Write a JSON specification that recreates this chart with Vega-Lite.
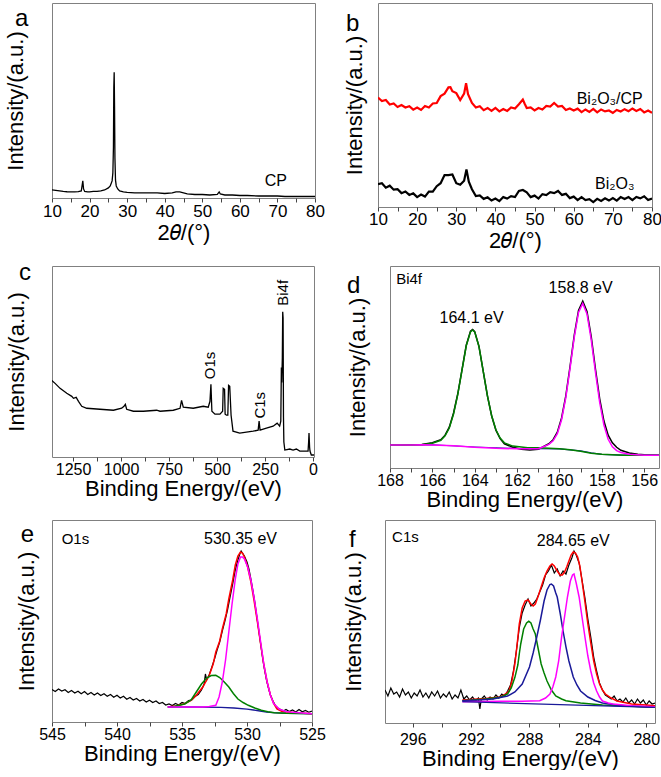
{
"$schema":"https://vega.github.io/schema/vega-lite/v6.json",
"padding":{"left":3,"top":2,"right":0,"bottom":0},
"background":"white",
"config":{
 "view":{"stroke":"#808080","strokeWidth":1},
 "font":"Liberation Sans",
 "axis":{"labelFont":"Liberation Sans","titleFont":"Liberation Sans","titleFontWeight":"normal","titleFontSize":22,"labelColor":"#000","titleColor":"#000","grid":false,"domain":false,"tickColor":"#444","tickSize":4,"labelPadding":0,"labelFlush":false,"labelOverlap":false,"labelBound":false,"format":"d"},
 "axisY":{"labels":false,"ticks":false,"domain":false},
 "text":{"font":"Liberation Sans","fontSize":16,"fill":"#000","fontWeight":"normal"}
},
"datasets":{
 "a":[{"x":10,"y":8},{"x":11,"y":7.5},{"x":12,"y":7},{"x":13,"y":6.5},{"x":14,"y":6.2},{"x":15,"y":6},{"x":16,"y":6},{"x":17,"y":6.3},{"x":17.8,"y":7},{"x":18,"y":12},{"x":18.2,"y":17},{"x":18.4,"y":9},{"x":18.7,"y":6.5},{"x":19.5,"y":6},{"x":20,"y":6},{"x":21,"y":6.5},{"x":22,"y":6.5},{"x":23,"y":7},{"x":24,"y":8},{"x":25,"y":10},{"x":25.5,"y":12},{"x":26,"y":17},{"x":26.2,"y":25},{"x":26.35,"y":50},{"x":26.45,"y":110},{"x":26.55,"y":125},{"x":26.65,"y":90},{"x":26.75,"y":40},{"x":26.9,"y":18},{"x":27.1,"y":12},{"x":27.5,"y":9},{"x":28,"y":7},{"x":29,"y":6},{"x":30,"y":5.5},{"x":32,"y":5},{"x":35,"y":5},{"x":38,"y":5},{"x":40,"y":4.5},{"x":42,"y":5},{"x":43,"y":6},{"x":44,"y":6},{"x":45,"y":5},{"x":46,"y":4},{"x":48,"y":3.5},{"x":50,"y":3.5},{"x":52,"y":3},{"x":54,"y":3.5},{"x":54.5,"y":6},{"x":54.8,"y":4},{"x":56,"y":3},{"x":58,"y":3},{"x":60,"y":2.5},{"x":62,"y":2.5},{"x":65,"y":2},{"x":68,"y":2},{"x":70,"y":2},{"x":72,"y":1.5},{"x":75,"y":1.5},{"x":78,"y":1.5},{"x":80,"y":1.5}],
 "b":[{"s":"r","x":10,"y":110.5},{"s":"r","x":11,"y":107},{"s":"r","x":12,"y":108},{"s":"r","x":13,"y":103.5},{"s":"r","x":14,"y":104.5},{"s":"r","x":15,"y":101},{"s":"r","x":16,"y":103},{"s":"r","x":17,"y":100.5},{"s":"r","x":18,"y":101.8},{"s":"r","x":19,"y":98.3},{"s":"r","x":20,"y":100.5},{"s":"r","x":21,"y":98},{"s":"r","x":22,"y":102},{"s":"r","x":23,"y":100.5},{"s":"r","x":24,"y":104.5},{"s":"r","x":25,"y":105},{"s":"r","x":26,"y":112},{"s":"r","x":27,"y":114.5},{"s":"r","x":28,"y":120.8},{"s":"r","x":28.5,"y":121},{"s":"r","x":29,"y":117},{"s":"r","x":30,"y":115},{"s":"r","x":31,"y":108},{"s":"r","x":32,"y":114.5},{"s":"r","x":32.5,"y":125},{"s":"r","x":33,"y":114},{"s":"r","x":34,"y":105},{"s":"r","x":35,"y":100.5},{"s":"r","x":36,"y":101.8},{"s":"r","x":37,"y":97.8},{"s":"r","x":38,"y":100},{"s":"r","x":39,"y":97},{"s":"r","x":40,"y":100},{"s":"r","x":41,"y":96.5},{"s":"r","x":42,"y":99},{"s":"r","x":43,"y":97},{"s":"r","x":44,"y":100.5},{"s":"r","x":45,"y":99.5},{"s":"r","x":46,"y":103.8},{"s":"r","x":47,"y":108.5},{"s":"r","x":47.5,"y":104},{"s":"r","x":48,"y":100},{"s":"r","x":49,"y":100.5},{"s":"r","x":50,"y":97.5},{"s":"r","x":51,"y":100},{"s":"r","x":52,"y":98.5},{"s":"r","x":53,"y":102},{"s":"r","x":54,"y":101.5},{"s":"r","x":55,"y":105},{"s":"r","x":56,"y":101.5},{"s":"r","x":57,"y":102},{"s":"r","x":58,"y":98},{"s":"r","x":59,"y":99.5},{"s":"r","x":60,"y":97.5},{"s":"r","x":61,"y":99.3},{"s":"r","x":62,"y":95.8},{"s":"r","x":63,"y":98.5},{"s":"r","x":64,"y":96},{"s":"r","x":65,"y":99},{"s":"r","x":66,"y":95.5},{"s":"r","x":67,"y":98.5},{"s":"r","x":68,"y":96.5},{"s":"r","x":69,"y":97.5},{"s":"r","x":70,"y":95},{"s":"r","x":71,"y":98},{"s":"r","x":72,"y":96.5},{"s":"r","x":73,"y":98.8},{"s":"r","x":74,"y":96.8},{"s":"r","x":75,"y":99.5},{"s":"r","x":76,"y":97},{"s":"r","x":77,"y":99},{"s":"r","x":78,"y":95.5},{"s":"r","x":79,"y":97.5},{"s":"r","x":80,"y":95},
  {"s":"k","x":10,"y":23},{"s":"k","x":11,"y":24},{"s":"k","x":12,"y":19.5},{"s":"k","x":13,"y":21.5},{"s":"k","x":14,"y":17.5},{"s":"k","x":15,"y":18},{"s":"k","x":16,"y":14},{"s":"k","x":17,"y":15.7},{"s":"k","x":18,"y":12.2},{"s":"k","x":19,"y":13.8},{"s":"k","x":20,"y":10},{"s":"k","x":21,"y":12.5},{"s":"k","x":22,"y":10.5},{"s":"k","x":23,"y":15.5},{"s":"k","x":24,"y":15.5},{"s":"k","x":25,"y":21},{"s":"k","x":26,"y":24},{"s":"k","x":27,"y":32.2},{"s":"k","x":28,"y":32.2},{"s":"k","x":29,"y":32.8},{"s":"k","x":30,"y":24},{"s":"k","x":31,"y":22.5},{"s":"k","x":32,"y":26.5},{"s":"k","x":32.6,"y":38},{"s":"k","x":33.2,"y":25.5},{"s":"k","x":34,"y":18},{"s":"k","x":35,"y":11},{"s":"k","x":36,"y":11.7},{"s":"k","x":37,"y":8.2},{"s":"k","x":38,"y":9.8},{"s":"k","x":39,"y":6.5},{"s":"k","x":40,"y":8.5},{"s":"k","x":41,"y":6},{"s":"k","x":42,"y":10},{"s":"k","x":43,"y":8.5},{"s":"k","x":44,"y":11},{"s":"k","x":45,"y":10},{"s":"k","x":46,"y":16.2},{"s":"k","x":47,"y":17.2},{"s":"k","x":48,"y":14.8},{"s":"k","x":49,"y":10},{"s":"k","x":50,"y":11.5},{"s":"k","x":51,"y":8.5},{"s":"k","x":52,"y":13},{"s":"k","x":53,"y":12},{"s":"k","x":54,"y":15},{"s":"k","x":55,"y":14},{"s":"k","x":56,"y":16.2},{"s":"k","x":57,"y":12.2},{"s":"k","x":58,"y":13.3},{"s":"k","x":59,"y":9},{"s":"k","x":60,"y":10.5},{"s":"k","x":61,"y":7},{"s":"k","x":62,"y":10},{"s":"k","x":63,"y":7},{"s":"k","x":64,"y":8},{"s":"k","x":65,"y":5},{"s":"k","x":66,"y":8.2},{"s":"k","x":67,"y":6.2},{"s":"k","x":68,"y":8.8},{"s":"k","x":69,"y":6.5},{"s":"k","x":70,"y":9},{"s":"k","x":71,"y":6.5},{"s":"k","x":72,"y":10},{"s":"k","x":73,"y":8},{"s":"k","x":74,"y":10},{"s":"k","x":75,"y":7},{"s":"k","x":76,"y":10.2},{"s":"k","x":77,"y":8.7},{"s":"k","x":78,"y":10.8},{"s":"k","x":79,"y":7},{"s":"k","x":80,"y":8.5}],
 "c":[{"x":1361,"y":77},{"x":1344,"y":74},{"x":1318,"y":69},{"x":1283,"y":64},{"x":1257,"y":61},{"x":1248,"y":59},{"x":1234,"y":60},{"x":1222,"y":56},{"x":1205,"y":51},{"x":1179,"y":49},{"x":1110,"y":48},{"x":1040,"y":47},{"x":997,"y":49},{"x":985,"y":51},{"x":978,"y":53},{"x":971,"y":48},{"x":936,"y":46},{"x":884,"y":46},{"x":815,"y":47},{"x":797,"y":46},{"x":728,"y":47},{"x":693,"y":49},{"x":685,"y":57},{"x":676,"y":50},{"x":624,"y":49},{"x":572,"y":51},{"x":546,"y":50},{"x":537,"y":56},{"x":532,"y":73},{"x":527,"y":46},{"x":511,"y":43},{"x":485,"y":43},{"x":471,"y":46},{"x":468,"y":69},{"x":461,"y":68},{"x":458,"y":43},{"x":451,"y":42},{"x":444,"y":42},{"x":440,"y":72},{"x":434,"y":71},{"x":427,"y":42},{"x":417,"y":26},{"x":382,"y":24},{"x":312,"y":26},{"x":286,"y":27},{"x":281,"y":36},{"x":276,"y":27},{"x":243,"y":29},{"x":208,"y":31},{"x":187,"y":34},{"x":174,"y":31},{"x":168,"y":36},{"x":165,"y":90},{"x":163,"y":75},{"x":160,"y":100},{"x":158,"y":146},{"x":156,"y":140},{"x":154,"y":40},{"x":152,"y":15},{"x":147,"y":7},{"x":121,"y":8},{"x":104,"y":7},{"x":87,"y":8},{"x":69,"y":6},{"x":43,"y":6},{"x":26,"y":6},{"x":23,"y":15},{"x":21,"y":24},{"x":18,"y":10},{"x":16,"y":6},{"x":9,"y":2},{"x":-5,"y":2}],
 "d":[{"s":"k","x":168,"y":23},{"s":"k","x":167.5,"y":22.6},{"s":"k","x":167,"y":22.9},{"s":"k","x":166.5,"y":23.3},{"s":"k","x":166,"y":25},{"s":"k","x":165.6,"y":28},{"s":"k","x":165.4,"y":32.5},{"s":"k","x":165.2,"y":40.5},{"s":"k","x":165,"y":54.5},{"s":"k","x":164.8,"y":73.5},{"s":"k","x":164.6,"y":97.5},{"s":"k","x":164.4,"y":121.5},{"s":"k","x":164.2,"y":135.5},{"s":"k","x":164.1,"y":137.2},{"s":"k","x":164,"y":135},{"s":"k","x":163.8,"y":120.5},{"s":"k","x":163.6,"y":96},{"s":"k","x":163.4,"y":71.5},{"s":"k","x":163.2,"y":51.5},{"s":"k","x":163,"y":37.5},{"s":"k","x":162.8,"y":29},{"s":"k","x":162.6,"y":24},{"s":"k","x":162.2,"y":20.5},{"s":"k","x":161.8,"y":18.5},{"s":"k","x":161.4,"y":17.8},{"s":"k","x":161,"y":18.5},{"s":"k","x":160.7,"y":21.8},{"s":"k","x":160.5,"y":24},{"s":"k","x":160.3,"y":28},{"s":"k","x":160.1,"y":35.5},{"s":"k","x":159.9,"y":49.5},{"s":"k","x":159.7,"y":71.5},{"s":"k","x":159.5,"y":100.5},{"s":"k","x":159.3,"y":131.5},{"s":"k","x":159.1,"y":156},{"s":"k","x":158.9,"y":165.3},{"s":"k","x":158.7,"y":155},{"s":"k","x":158.5,"y":130},{"s":"k","x":158.3,"y":98},{"s":"k","x":158.1,"y":68.5},{"s":"k","x":157.9,"y":46.5},{"s":"k","x":157.7,"y":32.5},{"s":"k","x":157.5,"y":25},{"s":"k","x":157.3,"y":20.5},{"s":"k","x":157.1,"y":17.5},{"s":"k","x":156.7,"y":14.8},{"s":"k","x":156.3,"y":13.5},{"s":"k","x":156,"y":13},{"s":"k","x":155.3,"y":12.7},
  {"s":"b","x":168,"y":22.7},{"s":"b","x":166,"y":23},{"s":"b","x":164,"y":20.8},{"s":"b","x":162,"y":19.3},{"s":"b","x":160,"y":19},{"s":"b","x":159,"y":17},{"s":"b","x":158.5,"y":15},{"s":"b","x":158,"y":13.5},{"s":"b","x":157,"y":12.7},{"s":"b","x":155.3,"y":12.7},
  {"s":"g","x":168,"y":22.7},{"s":"g","x":167,"y":22.8},{"s":"g","x":166.5,"y":23},{"s":"g","x":166,"y":24.6},{"s":"g","x":165.6,"y":27.4},{"s":"g","x":165.4,"y":31.9},{"s":"g","x":165.2,"y":39.6},{"s":"g","x":165,"y":53.5},{"s":"g","x":164.8,"y":72.9},{"s":"g","x":164.6,"y":96.9},{"s":"g","x":164.4,"y":121},{"s":"g","x":164.2,"y":134.8},{"s":"g","x":164.1,"y":136.7},{"s":"g","x":164,"y":134.6},{"s":"g","x":163.8,"y":120.3},{"s":"g","x":163.6,"y":95.9},{"s":"g","x":163.4,"y":71.5},{"s":"g","x":163.2,"y":51.7},{"s":"g","x":163,"y":37.8},{"s":"g","x":162.8,"y":29.6},{"s":"g","x":162.6,"y":24.9},{"s":"g","x":162.2,"y":21.7},{"s":"g","x":161.5,"y":20},{"s":"g","x":161,"y":20},{"s":"g","x":160.5,"y":19.5},{"s":"g","x":160,"y":19},{"s":"g","x":159.5,"y":18},{"s":"g","x":159,"y":16.5},{"s":"g","x":158.5,"y":14.5},{"s":"g","x":158,"y":13.5},{"s":"g","x":157.5,"y":13},{"s":"g","x":157,"y":12.7},{"s":"g","x":156,"y":12.7},{"s":"g","x":155.3,"y":12.7},
  {"s":"m","x":168,"y":22.7},{"s":"m","x":167,"y":22.8},{"s":"m","x":166.4,"y":23},{"s":"m","x":166,"y":22.8},{"s":"m","x":165,"y":22},{"s":"m","x":164,"y":20.5},{"s":"m","x":163,"y":19.5},{"s":"m","x":162,"y":19},{"s":"m","x":161,"y":19},{"s":"m","x":160.7,"y":21.6},{"s":"m","x":160.5,"y":23.4},{"s":"m","x":160.3,"y":26.9},{"s":"m","x":160.1,"y":34},{"s":"m","x":159.9,"y":47.8},{"s":"m","x":159.7,"y":69.6},{"s":"m","x":159.5,"y":98.6},{"s":"m","x":159.3,"y":129.7},{"s":"m","x":159.1,"y":154},{"s":"m","x":158.9,"y":162.9},{"s":"m","x":158.7,"y":152.6},{"s":"m","x":158.5,"y":127},{"s":"m","x":158.3,"y":94.8},{"s":"m","x":158.1,"y":65},{"s":"m","x":157.9,"y":42.6},{"s":"m","x":157.7,"y":28.4},{"s":"m","x":157.5,"y":21},{"s":"m","x":157.3,"y":17.2},{"s":"m","x":157.1,"y":15.3},{"s":"m","x":156.7,"y":13.7},{"s":"m","x":156,"y":12.7},{"s":"m","x":155.3,"y":12.7}],
 "e":[{"s":"k","x":545,"y":32.5},{"s":"k","x":544.75,"y":30.5},{"s":"k","x":544.5,"y":33},{"s":"k","x":544.25,"y":31},{"s":"k","x":544,"y":32.2},{"s":"k","x":543.75,"y":29.5},{"s":"k","x":543.5,"y":31.5},{"s":"k","x":543.25,"y":29},{"s":"k","x":543,"y":30.8},{"s":"k","x":542.75,"y":28.2},{"s":"k","x":542.5,"y":30.5},{"s":"k","x":542.25,"y":27.5},{"s":"k","x":542,"y":29.5},{"s":"k","x":541.75,"y":27},{"s":"k","x":541.5,"y":29},{"s":"k","x":541.25,"y":26.5},{"s":"k","x":541,"y":28.2},{"s":"k","x":540.75,"y":25.8},{"s":"k","x":540.5,"y":27.5},{"s":"k","x":540.25,"y":24.8},{"s":"k","x":540,"y":26.8},{"s":"k","x":539.75,"y":24},{"s":"k","x":539.5,"y":25.8},{"s":"k","x":539.25,"y":22.8},{"s":"k","x":539,"y":24.5},{"s":"k","x":538.75,"y":22},{"s":"k","x":538.5,"y":23.5},{"s":"k","x":538.25,"y":21},{"s":"k","x":538,"y":22.5},{"s":"k","x":537.75,"y":20},{"s":"k","x":537.5,"y":21.8},{"s":"k","x":537.25,"y":19.5},{"s":"k","x":537,"y":21},{"s":"k","x":536.75,"y":18.5},{"s":"k","x":536.5,"y":19.5},{"s":"k","x":536.25,"y":17},{"s":"k","x":536,"y":18},{"s":"k","x":535.75,"y":16.5},{"s":"k","x":535.5,"y":18.5},{"s":"k","x":535.25,"y":17},{"s":"k","x":535,"y":19.5},{"s":"k","x":534.75,"y":18.5},{"s":"k","x":534.5,"y":21.5},{"s":"k","x":534.25,"y":22},{"s":"k","x":534,"y":25.5},{"s":"k","x":533.75,"y":27.5},{"s":"k","x":533.5,"y":32},{"s":"k","x":533.3,"y":38},{"s":"k","x":533.2,"y":48},{"s":"k","x":533.1,"y":42},{"s":"k","x":532.9,"y":47.5},{"s":"k","x":532.7,"y":55},{"s":"k","x":532.5,"y":63},{"s":"k","x":532.3,"y":72},{"s":"k","x":532.1,"y":80},{"s":"k","x":531.9,"y":91},{"s":"k","x":531.7,"y":101},{"s":"k","x":531.5,"y":112},{"s":"k","x":531.3,"y":125},{"s":"k","x":531.1,"y":138},{"s":"k","x":530.9,"y":152},{"s":"k","x":530.7,"y":162},{"s":"k","x":530.55,"y":168},{"s":"k","x":530.45,"y":171},{"s":"k","x":530.35,"y":169},{"s":"k","x":530.2,"y":166},{"s":"k","x":530,"y":160},{"s":"k","x":529.85,"y":153},{"s":"k","x":529.7,"y":143},{"s":"k","x":529.55,"y":132},{"s":"k","x":529.4,"y":120},{"s":"k","x":529.25,"y":106},{"s":"k","x":529.1,"y":92},{"s":"k","x":528.95,"y":78},{"s":"k","x":528.8,"y":64},{"s":"k","x":528.65,"y":52},{"s":"k","x":528.5,"y":42},{"s":"k","x":528.35,"y":34},{"s":"k","x":528.2,"y":27},{"s":"k","x":528,"y":21},{"s":"k","x":527.8,"y":16},{"s":"k","x":527.6,"y":13.5},{"s":"k","x":527.4,"y":12.5},{"s":"k","x":527.2,"y":11},{"s":"k","x":527,"y":12.5},{"s":"k","x":526.75,"y":10.5},{"s":"k","x":526.5,"y":12},{"s":"k","x":526.25,"y":10},{"s":"k","x":526,"y":12.5},{"s":"k","x":525.75,"y":10.2},{"s":"k","x":525.5,"y":11.5},{"s":"k","x":525.25,"y":9.8},{"s":"k","x":525,"y":11},
  {"s":"r","x":536.1,"y":15},{"s":"r","x":535.5,"y":16},{"s":"r","x":534.8,"y":18.3},{"s":"r","x":534.3,"y":21.5},{"s":"r","x":533.9,"y":26.7},{"s":"r","x":533.4,"y":35},{"s":"r","x":532.9,"y":46.7},{"s":"r","x":532.6,"y":58},{"s":"r","x":532.4,"y":70},{"s":"r","x":532.1,"y":81},{"s":"r","x":531.9,"y":93},{"s":"r","x":531.6,"y":108},{"s":"r","x":531.4,"y":123},{"s":"r","x":531.1,"y":142},{"s":"r","x":530.9,"y":157},{"s":"r","x":530.7,"y":166},{"s":"r","x":530.5,"y":170},{"s":"r","x":530.35,"y":169},{"s":"r","x":530.2,"y":165},{"s":"r","x":529.95,"y":155},{"s":"r","x":529.7,"y":140},{"s":"r","x":529.45,"y":121},{"s":"r","x":529.2,"y":100},{"s":"r","x":528.95,"y":78},{"s":"r","x":528.7,"y":57},{"s":"r","x":528.45,"y":40},{"s":"r","x":528.2,"y":27},{"s":"r","x":527.95,"y":18.5},{"s":"r","x":527.7,"y":13},{"s":"r","x":527.3,"y":10.5},{"s":"r","x":527,"y":10},{"s":"r","x":526,"y":9},{"s":"r","x":525,"y":8.3},
  {"s":"m","x":536.1,"y":15},{"s":"m","x":534,"y":15},{"s":"m","x":533.4,"y":15},{"s":"m","x":532.9,"y":15.5},{"s":"m","x":532.4,"y":16.7},{"s":"m","x":532.15,"y":25},{"s":"m","x":531.9,"y":40},{"s":"m","x":531.65,"y":62},{"s":"m","x":531.4,"y":90},{"s":"m","x":531.15,"y":118},{"s":"m","x":530.9,"y":143},{"s":"m","x":530.7,"y":158},{"s":"m","x":530.5,"y":165},{"s":"m","x":530.35,"y":165},{"s":"m","x":530.2,"y":163},{"s":"m","x":529.95,"y":155},{"s":"m","x":529.7,"y":142},{"s":"m","x":529.45,"y":124},{"s":"m","x":529.2,"y":103},{"s":"m","x":528.95,"y":80},{"s":"m","x":528.7,"y":57},{"s":"m","x":528.45,"y":40},{"s":"m","x":528.2,"y":27},{"s":"m","x":527.95,"y":18.5},{"s":"m","x":527.5,"y":12.7},{"s":"m","x":527,"y":10.5},{"s":"m","x":526.7,"y":10},{"s":"m","x":525,"y":8.3},
  {"s":"g","x":535.8,"y":15},{"s":"g","x":534.8,"y":18},{"s":"g","x":534.3,"y":22},{"s":"g","x":533.9,"y":30},{"s":"g","x":533.5,"y":38},{"s":"g","x":533.1,"y":44},{"s":"g","x":532.75,"y":46.5},{"s":"g","x":532.4,"y":46.7},{"s":"g","x":532.1,"y":44.5},{"s":"g","x":531.75,"y":40},{"s":"g","x":531.4,"y":35},{"s":"g","x":531.05,"y":28.5},{"s":"g","x":530.7,"y":23},{"s":"g","x":530.3,"y":19.5},{"s":"g","x":529.9,"y":16.7},{"s":"g","x":529.4,"y":14},{"s":"g","x":528.9,"y":11.7},{"s":"g","x":528.4,"y":10.3},{"s":"g","x":527.9,"y":9.3},{"s":"g","x":527,"y":8.7},{"s":"g","x":525,"y":8.3},
  {"s":"b","x":536.1,"y":15},{"s":"b","x":534,"y":15},{"s":"b","x":532,"y":14.7},{"s":"b","x":531,"y":14},{"s":"b","x":530,"y":12.8},{"s":"b","x":529.5,"y":12},{"s":"b","x":529,"y":11},{"s":"b","x":528.5,"y":10},{"s":"b","x":528,"y":9.3},{"s":"b","x":527,"y":8.7},{"s":"b","x":525,"y":8.3}],
 "f":[{"s":"k","x":297.9,"y":33},{"s":"k","x":297.7,"y":27},{"s":"k","x":297.5,"y":35},{"s":"k","x":297.3,"y":29},{"s":"k","x":297.1,"y":31},{"s":"k","x":296.9,"y":26},{"s":"k","x":296.7,"y":34},{"s":"k","x":296.5,"y":28},{"s":"k","x":296.3,"y":31},{"s":"k","x":296.1,"y":25},{"s":"k","x":295.9,"y":30},{"s":"k","x":295.7,"y":27},{"s":"k","x":295.5,"y":33},{"s":"k","x":295.3,"y":26},{"s":"k","x":295.1,"y":30},{"s":"k","x":294.9,"y":25},{"s":"k","x":294.7,"y":31},{"s":"k","x":294.5,"y":27},{"s":"k","x":294.3,"y":32},{"s":"k","x":294.1,"y":25},{"s":"k","x":293.9,"y":29},{"s":"k","x":293.7,"y":26},{"s":"k","x":293.5,"y":31},{"s":"k","x":293.3,"y":24},{"s":"k","x":293.1,"y":28},{"s":"k","x":292.9,"y":25},{"s":"k","x":292.7,"y":33},{"s":"k","x":292.5,"y":24},{"s":"k","x":292.3,"y":27},{"s":"k","x":292.1,"y":23},{"s":"k","x":291.9,"y":26},{"s":"k","x":291.7,"y":22},{"s":"k","x":291.5,"y":25},{"s":"k","x":291.4,"y":14},{"s":"k","x":291.3,"y":24},{"s":"k","x":291.1,"y":27},{"s":"k","x":290.9,"y":23},{"s":"k","x":290.7,"y":26},{"s":"k","x":290.5,"y":24},{"s":"k","x":290.3,"y":28},{"s":"k","x":290.1,"y":25},{"s":"k","x":289.9,"y":29},{"s":"k","x":289.7,"y":27},{"s":"k","x":289.5,"y":32},{"s":"k","x":289.3,"y":38},{"s":"k","x":289.1,"y":52},{"s":"k","x":288.9,"y":72},{"s":"k","x":288.7,"y":95},{"s":"k","x":288.5,"y":110},{"s":"k","x":288.3,"y":118},{"s":"k","x":288.1,"y":124},{"s":"k","x":287.9,"y":117},{"s":"k","x":287.7,"y":120},{"s":"k","x":287.5,"y":124},{"s":"k","x":287.3,"y":131},{"s":"k","x":287.1,"y":138},{"s":"k","x":286.9,"y":148},{"s":"k","x":286.7,"y":152},{"s":"k","x":286.5,"y":158},{"s":"k","x":286.3,"y":150},{"s":"k","x":286.1,"y":154},{"s":"k","x":285.9,"y":147},{"s":"k","x":285.7,"y":152},{"s":"k","x":285.5,"y":149},{"s":"k","x":285.3,"y":158},{"s":"k","x":285.1,"y":165},{"s":"k","x":284.95,"y":172},{"s":"k","x":284.8,"y":168},{"s":"k","x":284.6,"y":160},{"s":"k","x":284.4,"y":143},{"s":"k","x":284.2,"y":125},{"s":"k","x":284,"y":104},{"s":"k","x":283.8,"y":86},{"s":"k","x":283.6,"y":66},{"s":"k","x":283.4,"y":52},{"s":"k","x":283.2,"y":40},{"s":"k","x":283,"y":33},{"s":"k","x":282.8,"y":28},{"s":"k","x":282.6,"y":26},{"s":"k","x":282.4,"y":24},{"s":"k","x":282.2,"y":27},{"s":"k","x":282,"y":22},{"s":"k","x":281.8,"y":24},{"s":"k","x":281.6,"y":21},{"s":"k","x":281.4,"y":25},{"s":"k","x":281.2,"y":20},{"s":"k","x":281,"y":23},{"s":"k","x":280.8,"y":19},{"s":"k","x":280.6,"y":24},{"s":"k","x":280.4,"y":20},{"s":"k","x":280.2,"y":23},{"s":"k","x":280,"y":18},{"s":"k","x":279.8,"y":22},{"s":"k","x":279.6,"y":19},{"s":"k","x":279.4,"y":20},
  {"s":"r","x":292.6,"y":23},{"s":"r","x":291,"y":24.5},{"s":"r","x":290,"y":26},{"s":"r","x":289.7,"y":28.5},{"s":"r","x":289.4,"y":32},{"s":"r","x":289.2,"y":42},{"s":"r","x":289,"y":59},{"s":"r","x":288.85,"y":78},{"s":"r","x":288.7,"y":99},{"s":"r","x":288.5,"y":115},{"s":"r","x":288.3,"y":122},{"s":"r","x":288.1,"y":123},{"s":"r","x":287.9,"y":119},{"s":"r","x":287.75,"y":117},{"s":"r","x":287.6,"y":119},{"s":"r","x":287.4,"y":127},{"s":"r","x":287.2,"y":136},{"s":"r","x":287,"y":145},{"s":"r","x":286.8,"y":152},{"s":"r","x":286.6,"y":157},{"s":"r","x":286.45,"y":159},{"s":"r","x":286.3,"y":157},{"s":"r","x":286.1,"y":152},{"s":"r","x":285.9,"y":148},{"s":"r","x":285.75,"y":148},{"s":"r","x":285.6,"y":151},{"s":"r","x":285.45,"y":156},{"s":"r","x":285.3,"y":162},{"s":"r","x":285.15,"y":168},{"s":"r","x":285,"y":171},{"s":"r","x":284.85,"y":170},{"s":"r","x":284.7,"y":166},{"s":"r","x":284.55,"y":157},{"s":"r","x":284.4,"y":142},{"s":"r","x":284.2,"y":121},{"s":"r","x":284,"y":99},{"s":"r","x":283.8,"y":80},{"s":"r","x":283.6,"y":62},{"s":"r","x":283.4,"y":49},{"s":"r","x":283.2,"y":39},{"s":"r","x":283,"y":33},{"s":"r","x":282.8,"y":29},{"s":"r","x":282.4,"y":25},{"s":"r","x":282,"y":22},{"s":"r","x":281,"y":19},{"s":"r","x":280,"y":18},{"s":"r","x":279.4,"y":17.3},
  {"s":"g","x":292.6,"y":22.3},{"s":"g","x":291,"y":24},{"s":"g","x":290,"y":25.7},{"s":"g","x":289.5,"y":29},{"s":"g","x":289.25,"y":35},{"s":"g","x":289,"y":45.7},{"s":"g","x":288.8,"y":58},{"s":"g","x":288.7,"y":69},{"s":"g","x":288.6,"y":79},{"s":"g","x":288.4,"y":94},{"s":"g","x":288.2,"y":100},{"s":"g","x":288.05,"y":101.7},{"s":"g","x":287.9,"y":100},{"s":"g","x":287.75,"y":94},{"s":"g","x":287.6,"y":89},{"s":"g","x":287.4,"y":74},{"s":"g","x":287.2,"y":59},{"s":"g","x":287,"y":50},{"s":"g","x":286.8,"y":42},{"s":"g","x":286.5,"y":33},{"s":"g","x":286.2,"y":27},{"s":"g","x":285.8,"y":24},{"s":"g","x":285.5,"y":22.3},{"s":"g","x":284.5,"y":20},{"s":"g","x":283,"y":18},{"s":"g","x":281,"y":16.7},{"s":"g","x":279.4,"y":15.7},
  {"s":"b","x":292.6,"y":22.3},{"s":"b","x":291.5,"y":23},{"s":"b","x":290.5,"y":24},{"s":"b","x":289.5,"y":27},{"s":"b","x":289,"y":31},{"s":"b","x":288.5,"y":39},{"s":"b","x":288,"y":56},{"s":"b","x":287.75,"y":70},{"s":"b","x":287.5,"y":86},{"s":"b","x":287.25,"y":103},{"s":"b","x":287,"y":122},{"s":"b","x":286.8,"y":133},{"s":"b","x":286.6,"y":138.5},{"s":"b","x":286.5,"y":139},{"s":"b","x":286.35,"y":137},{"s":"b","x":286.2,"y":130},{"s":"b","x":286.1,"y":126},{"s":"b","x":285.9,"y":110},{"s":"b","x":285.7,"y":92},{"s":"b","x":285.5,"y":76},{"s":"b","x":285.3,"y":62},{"s":"b","x":285,"y":46},{"s":"b","x":284.75,"y":38},{"s":"b","x":284.5,"y":32},{"s":"b","x":284,"y":26},{"s":"b","x":283.5,"y":22.5},{"s":"b","x":283,"y":20},{"s":"b","x":282,"y":18},{"s":"b","x":281.5,"y":17.3},{"s":"b","x":279.4,"y":15.7},
  {"s":"m","x":292.6,"y":21.3},{"s":"m","x":290,"y":21.7},{"s":"m","x":288.5,"y":21.7},{"s":"m","x":287.3,"y":22.3},{"s":"m","x":286.9,"y":25},{"s":"m","x":286.6,"y":29},{"s":"m","x":286.4,"y":36},{"s":"m","x":286.2,"y":46},{"s":"m","x":286,"y":62},{"s":"m","x":285.8,"y":86},{"s":"m","x":285.6,"y":106},{"s":"m","x":285.4,"y":126},{"s":"m","x":285.2,"y":142},{"s":"m","x":285.05,"y":148},{"s":"m","x":284.95,"y":149},{"s":"m","x":284.8,"y":140},{"s":"m","x":284.6,"y":126},{"s":"m","x":284.4,"y":106},{"s":"m","x":284.2,"y":86},{"s":"m","x":284,"y":67},{"s":"m","x":283.8,"y":52},{"s":"m","x":283.6,"y":40},{"s":"m","x":283.4,"y":32},{"s":"m","x":283.2,"y":26},{"s":"m","x":283,"y":22},{"s":"m","x":282.6,"y":20},{"s":"m","x":282.3,"y":19},{"s":"m","x":281,"y":17.3},{"s":"m","x":279.4,"y":16.3},
  {"s":"z","x":292.6,"y":21.3},{"s":"z","x":279.4,"y":15.7}]
},
"vconcat":[
 {"hconcat":[
  {"width":263,"height":195,"data":{"name":"a"},
   "encoding":{"x":{"field":"x","type":"quantitative","scale":{"domain":[10,80],"nice":false,"zero":false},"axis":{"title":"2𝜃/(°)","values":[10,15,20,25,30,35,40,45,50,55,60,65,70,75,80],"labelExpr":"datum.value % 10 === 0 ? datum.label : ''","labelFontSize":17,"labelPadding":1,"titlePadding":3,"labelOverlap":false}},
      "y":{"field":"y","type":"quantitative","scale":{"domain":[0,194],"nice":false},"axis":{"title":"Intensity/(a.u.)","titlePadding":25}}},
   "layer":[
    {"mark":{"type":"line","color":"#000","strokeWidth":1.3,"clip":true}},
    {"transform":[{"filter":"datum.x === 10"}],"mark":{"type":"text","fontSize":16},"encoding":{"x":{"datum":69.6},"y":{"datum":17},"text":{"value":"CP"}}},
    {"transform":[{"filter":"datum.x === 10"}],"mark":{"type":"text","fontSize":24,"align":"left","baseline":"alphabetic"},"encoding":{"x":{"datum":0.15},"y":{"datum":171.1},"text":{"value":"a"}}}
   ]},
  {"width":274,"height":204,"data":{"name":"b"},
   "encoding":{"x":{"field":"x","type":"quantitative","scale":{"domain":[10,80],"nice":false,"zero":false},"axis":{"title":"2𝜃/(°)","values":[10,15,20,25,30,35,40,45,50,55,60,65,70,75,80],"labelExpr":"datum.value % 10 === 0 ? datum.label : ''","labelFontSize":17,"labelPadding":0,"titlePadding":3,"labelOverlap":false}},
      "y":{"field":"y","type":"quantitative","scale":{"domain":[0,206],"nice":false},"axis":{"title":"Intensity/(a.u.)","titlePadding":12}}},
   "layer":[
    {"transform":[{"filter":"datum.s === 'r'"}],"mark":{"type":"line","color":"#ff0000","strokeWidth":2.2,"clip":true}},
    {"transform":[{"filter":"datum.s === 'k'"}],"mark":{"type":"line","color":"#000","strokeWidth":2.2,"clip":true}},
    {"transform":[{"filter":"datum.s === 'r' && datum.x === 10"}],"mark":{"type":"text","fontSize":16},"encoding":{"x":{"datum":69.2},"y":{"datum":109},"text":{"value":"Bi₂O₃/CP"}}},
    {"transform":[{"filter":"datum.s === 'r' && datum.x === 10"}],"mark":{"type":"text","fontSize":16},"encoding":{"x":{"datum":70.5},"y":{"datum":23},"text":{"value":"Bi₂O₃"}}},
    {"transform":[{"filter":"datum.s === 'r' && datum.x === 10"}],"mark":{"type":"text","fontSize":24,"align":"left","baseline":"alphabetic"},"encoding":{"x":{"datum":1.82},"y":{"datum":177.7},"text":{"value":"b"}}}
   ]}
 ],"spacing":17},
 {"hconcat":[
  {"width":262,"height":191,"data":{"name":"c"},
   "encoding":{"x":{"field":"x","type":"quantitative","scale":{"domain":[1360,-5],"nice":false,"zero":false},"axis":{"title":"Binding Energy/(eV)","values":[1250,1125,1000,875,750,625,500,375,250,125,0],"labelExpr":"datum.value % 250 === 0 ? datum.label : ''","labelFontSize":16,"labelPadding":0,"titlePadding":1,"labelOverlap":false}},
      "y":{"field":"y","type":"quantitative","scale":{"domain":[0,192],"nice":false},"axis":{"title":"Intensity/(a.u.)","titlePadding":24}}},
   "layer":[
    {"mark":{"type":"line","color":"#000","strokeWidth":1.3,"clip":true}},
    {"transform":[{"filter":"datum.x === 1361"}],"mark":{"type":"text","fontSize":15,"angle":270},"encoding":{"x":{"datum":538},"y":{"datum":92},"text":{"value":"O1s"}}},
    {"transform":[{"filter":"datum.x === 1361"}],"mark":{"type":"text","fontSize":15,"angle":270},"encoding":{"x":{"datum":277},"y":{"datum":52},"text":{"value":"C1s"}}},
    {"transform":[{"filter":"datum.x === 1361"}],"mark":{"type":"text","fontSize":15,"angle":270},"encoding":{"x":{"datum":156},"y":{"datum":165},"text":{"value":"Bi4f"}}},
    {"transform":[{"filter":"datum.x === 1361"}],"mark":{"type":"text","fontSize":24,"align":"left","baseline":"alphabetic"},"encoding":{"x":{"datum":1532},"y":{"datum":177.9},"text":{"value":"c"}}}
   ]},
  {"width":269,"height":202,"data":{"name":"d"},
   "encoding":{"x":{"field":"x","type":"quantitative","scale":{"domain":[168,155.3],"nice":false,"zero":false},"axis":{"title":"Binding Energy/(eV)","values":[156,157,158,159,160,161,162,163,164,165,166,167,168],"labelExpr":"datum.value % 2 === 0 ? datum.label : ''","labelFontSize":16,"labelPadding":0,"titlePadding":1,"labelOverlap":false}},
      "y":{"field":"y","type":"quantitative","scale":{"domain":[0,200],"nice":false},"axis":{"title":"Intensity/(a.u.)","titlePadding":21}}},
   "layer":[
    {"transform":[{"filter":"datum.s === 'k'"}],"mark":{"type":"line","color":"#000","strokeWidth":1.5,"clip":true}},
    {"transform":[{"filter":"datum.s === 'b'"}],"mark":{"type":"line","color":"#1a1a99","strokeWidth":1.2,"clip":true}},
    {"transform":[{"filter":"datum.s === 'g'"}],"mark":{"type":"line","color":"#008000","strokeWidth":1.5,"clip":true}},
    {"transform":[{"filter":"datum.s === 'm'"}],"mark":{"type":"line","color":"#ff00ff","strokeWidth":1.5,"clip":true}},
    {"transform":[{"filter":"datum.s === 'k' && datum.x === 168"}],"mark":{"type":"text","fontSize":15},"encoding":{"x":{"datum":167.1},"y":{"datum":187},"text":{"value":"Bi4f"}}},
    {"transform":[{"filter":"datum.s === 'k' && datum.x === 168"}],"mark":{"type":"text","fontSize":16},"encoding":{"x":{"datum":164.15},"y":{"datum":149},"text":{"value":"164.1 eV"}}},
    {"transform":[{"filter":"datum.s === 'k' && datum.x === 168"}],"mark":{"type":"text","fontSize":16},"encoding":{"x":{"datum":159.0},"y":{"datum":178},"text":{"value":"158.8 eV"}}},
    {"transform":[{"filter":"datum.s === 'k' && datum.x === 168"}],"mark":{"type":"text","fontSize":24,"align":"left","baseline":"alphabetic"},"encoding":{"x":{"datum":170.03},"y":{"datum":173.3},"text":{"value":"d"}}}
   ]}
 ],"spacing":27},
 {"hconcat":[
  {"width":260,"height":202,"data":{"name":"e"},
   "encoding":{"x":{"field":"x","type":"quantitative","scale":{"domain":[545,525],"nice":false,"zero":false},"axis":{"title":"Binding Energy/(eV)","values":[525,527.5,530,532.5,535,537.5,540,542.5,545],"labelExpr":"datum.value % 5 === 0 ? datum.label : ''","labelFontSize":16,"labelPadding":0,"titlePadding":1,"labelOverlap":false}},
      "y":{"field":"y","type":"quantitative","scale":{"domain":[0,202],"nice":false},"axis":{"title":"Intensity/(a.u.)","titlePadding":14}}},
   "layer":[
    {"transform":[{"filter":"datum.s === 'k'"}],"mark":{"type":"line","color":"#000","strokeWidth":1.2,"clip":true}},
    {"transform":[{"filter":"datum.s === 'r'"}],"mark":{"type":"line","color":"#ff0000","strokeWidth":1.5,"clip":true}},
    {"transform":[{"filter":"datum.s === 'b'"}],"mark":{"type":"line","color":"#1a1a99","strokeWidth":1.3,"clip":true}},
    {"transform":[{"filter":"datum.s === 'g'"}],"mark":{"type":"line","color":"#008000","strokeWidth":1.5,"clip":true}},
    {"transform":[{"filter":"datum.s === 'm'"}],"mark":{"type":"line","color":"#ff00ff","strokeWidth":1.5,"clip":true}},
    {"transform":[{"filter":"datum.s === 'k' && datum.x === 545"}],"mark":{"type":"text","fontSize":15},"encoding":{"x":{"datum":543.2},"y":{"datum":183},"text":{"value":"O1s"}}},
    {"transform":[{"filter":"datum.s === 'k' && datum.x === 545"}],"mark":{"type":"text","fontSize":16},"encoding":{"x":{"datum":530.5},"y":{"datum":183},"text":{"value":"530.35 eV"}}},
    {"transform":[{"filter":"datum.s === 'k' && datum.x === 545"}],"mark":{"type":"text","fontSize":24,"align":"left","baseline":"alphabetic"},"encoding":{"x":{"datum":547.4},"y":{"datum":180},"text":{"value":"e"}}}
   ]},
  {"width":270,"height":203,"data":{"name":"f"},
   "encoding":{"x":{"field":"x","type":"quantitative","scale":{"domain":[297.9,279.4],"nice":false,"zero":false},"axis":{"title":"Binding Energy/(eV)","values":[280,282,284,286,288,290,292,294,296],"labelExpr":"datum.value % 4 === 0 ? datum.label : ''","labelFontSize":16,"labelPadding":4,"titlePadding":1,"labelOverlap":false}},
      "y":{"field":"y","type":"quantitative","scale":{"domain":[0,203],"nice":false},"axis":{"title":"Intensity/(a.u.)","titlePadding":20}}},
   "layer":[
    {"transform":[{"filter":"datum.s === 'k'"}],"mark":{"type":"line","color":"#000","strokeWidth":1.2,"clip":true}},
    {"transform":[{"filter":"datum.s === 'r'"}],"mark":{"type":"line","color":"#ff0000","strokeWidth":1.5,"clip":true}},
    {"transform":[{"filter":"datum.s === 'g'"}],"mark":{"type":"line","color":"#008000","strokeWidth":1.5,"clip":true}},
    {"transform":[{"filter":"datum.s === 'b'"}],"mark":{"type":"line","color":"#1a1a99","strokeWidth":1.5,"clip":true}},
    {"transform":[{"filter":"datum.s === 'm'"}],"mark":{"type":"line","color":"#ff00ff","strokeWidth":1.5,"clip":true}},
    {"transform":[{"filter":"datum.s === 'z'"}],"mark":{"type":"line","color":"#1a1a99","strokeWidth":1.3,"clip":true}},
    {"transform":[{"filter":"datum.s === 'k' && datum.x === 297.9"}],"mark":{"type":"text","fontSize":15},"encoding":{"x":{"datum":296.5},"y":{"datum":185.7},"text":{"value":"C1s"}}},
    {"transform":[{"filter":"datum.s === 'k' && datum.x === 297.9"}],"mark":{"type":"text","fontSize":16},"encoding":{"x":{"datum":285.0},"y":{"datum":182},"text":{"value":"284.65 eV"}}},
    {"transform":[{"filter":"datum.s === 'k' && datum.x === 297.9"}],"mark":{"type":"text","fontSize":24,"align":"left","baseline":"alphabetic"},"encoding":{"x":{"datum":300.37},"y":{"datum":176},"text":{"value":"f"}}}
   ]}
 ],"spacing":15}
],
"spacing":8
}
